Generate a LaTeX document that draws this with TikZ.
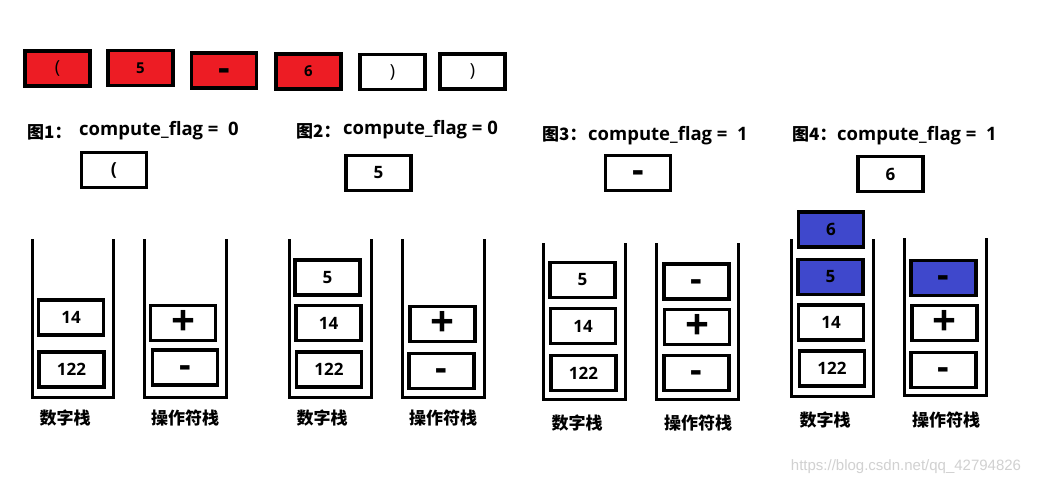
\documentclass[tikz,border=0pt]{standalone}
\usepackage{fontspec}
\setmainfont{Open Sans}
\newfontfamily\cjk{Noto Sans CJK SC}
\newfontfamily\wm{Liberation Sans}
\definecolor{cred}{HTML}{ED1C24}
\definecolor{cblue}{HTML}{3F48CC}
\tikzset{
  cell/.style={draw, line width=3.5pt, minimum width=65pt, minimum height=35pt, inner sep=0pt, font=\bfseries\fontsize{17}{17}\selectfont},
  topcell/.style={cell, font=\bfseries\fontsize{15}{15}\selectfont},
  parcell/.style={cell, font=\fontsize{18}{18}\selectfont},
  opcell/.style={cell, font=\bfseries\fontsize{36}{36}\selectfont, text height=19pt, text depth=0pt},
  pluscell/.style={cell, font=\bfseries\fontsize{42}{42}\selectfont},
  stack/.style={draw, line width=3pt},
  fig/.style={anchor=base west, inner sep=0pt, font=\cjk\bfseries\fontsize{17}{17}\selectfont},
  flag/.style={anchor=base west, inner sep=0pt, font=\bfseries\fontsize{18.5}{18.5}\selectfont},
  slabel/.style={inner sep=0pt, font=\cjk\bfseries\fontsize{17}{17}\selectfont},
}
\begin{document}
\begin{tikzpicture}[x=1pt,y=-1pt]
\useasboundingbox[fill=white] (0,0) rectangle (1038,485);
% top row
\node[parcell, fill=cred] (t1) at (57.5,68.5) {(};
\node[topcell, fill=cred] (t2) at (140.5,68) {5};
\node[opcell, fill=cred] (t3) at (224,70.5) {-};
\node[topcell, fill=cred] (t4) at (308.5,71.5) {6};
\node[parcell] (t5) at (392.5,72) {)};
\node[parcell] (t6) at (472.5,71.5) {)};
% headings
\node[fig] (h1) at (27,138) {图1：};
\node[flag] (f1) at (79,135) {compute\_flag =\ \ 0};
\node[fig] (h2) at (296,137) {图2：};
\node[flag] (f2) at (343,134) {compute\_flag = 0};
\node[fig] (h3) at (542,140) {图3：};
\node[flag] (f3) at (588,140) {compute\_flag =\ \ 1};
\node[fig] (h4) at (792,140) {图4：};
\node[flag] (f4) at (837,140) {compute\_flag =\ \ 1};
% current tokens
\node[parcell] (c1) at (114,170) {\bfseries (};
\node[cell] (c2) at (378.5,173) {5};
\node[opcell] (c3) at (638,173) {-};
\node[cell] (c4) at (890.5,174) {6};
% stacks
\draw[stack] (32,239) |- (113,397) -- (113,239);
\draw[stack] (144,239) |- (226,397) -- (226,239);
\draw[stack] (289,239) |- (371,397) -- (371,239);
\draw[stack] (402,239) |- (484,397) -- (484,239);
\draw[stack] (543,243) |- (625,399) -- (625,243);
\draw[stack] (656,243) |- (738,399) -- (738,243);
\draw[stack] (791,239) |- (873,396) -- (873,239);
\draw[stack] (904,238) |- (986,395) -- (986,238);
% fig1 cells
\node[cell] (a14) at (71,317.5) {14};
\node[cell] (a122) at (71.5,369.5) {122};
\node[pluscell] (ap) at (183,323) {+};
\node[opcell] (am) at (185,367.5) {-};
% fig2 cells
\node[cell] (b5) at (327.5,277.5) {5};
\node[cell] (b14) at (328.5,323) {14};
\node[cell] (b122) at (329,369.5) {122};
\node[pluscell] (bp) at (442.5,324) {+};
\node[opcell] (bm) at (441.5,371) {-};
% fig3 cells
\node[cell] (c35) at (582.5,280) {5};
\node[cell] (c314) at (583,326) {14};
\node[cell] (c3122) at (583.5,373) {122};
\node[opcell] (c3m1) at (696.5,281.5) {-};
\node[pluscell] (c3p) at (697,327) {+};
\node[opcell] (c3m2) at (696.5,373) {-};
% fig4 cells
\node[cell, fill=cblue] (d6) at (831,229.5) {6};
\node[cell, fill=cblue] (d5) at (830.5,277) {5};
\node[cell] (d14) at (831,322.5) {14};
\node[cell] (d122) at (832,368.5) {122};
\node[opcell, fill=cblue] (dm1) at (943.5,278) {-};
\node[pluscell] (dp) at (944.5,323) {+};
\node[opcell] (dm2) at (943.5,370) {-};
% stack labels
\node[slabel] (l1n) at (65,418) {数字栈};
\node[slabel] (l1o) at (185,418) {操作符栈};
\node[slabel] (l2n) at (322,418) {数字栈};
\node[slabel] (l2o) at (443,418) {操作符栈};
\node[slabel] (l3n) at (577,423) {数字栈};
\node[slabel] (l3o) at (698,423) {操作符栈};
\node[slabel] (l4n) at (825,420) {数字栈};
\node[slabel] (l4o) at (946,420) {操作符栈};
% watermark
\node[inner sep=0pt, text=black!18, font=\wm\fontsize{15}{15}\selectfont] (wm) at (906,467) {https://blog.csdn.net/qq\_42794826};
\end{tikzpicture}
\end{document}
